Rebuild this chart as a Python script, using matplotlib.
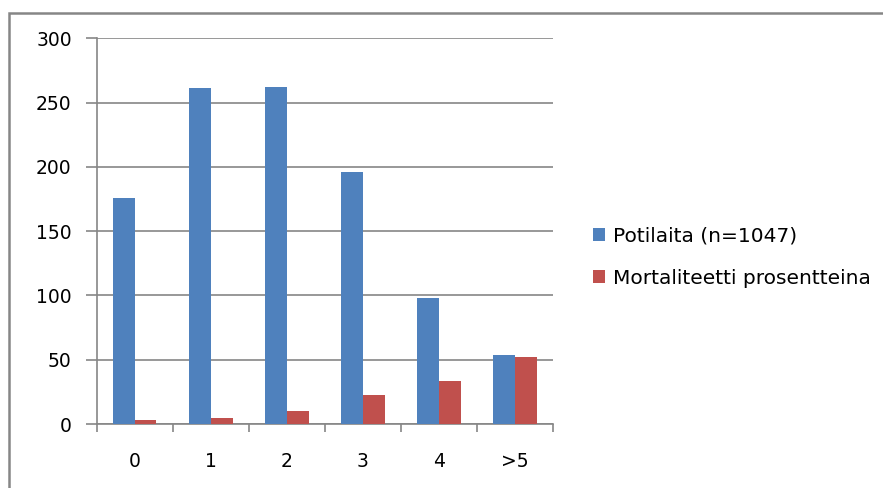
import numpy as np
import matplotlib
matplotlib.use("Agg")
from matplotlib import pyplot as plt
from matplotlib.patches import Rectangle

categories = ["0", "1", "2", "3", "4", ">5"]
potilaita = [176, 261, 262, 196, 98, 54]
mortaliteetti = [3.5, 4.4, 10.3, 22.8, 33.7, 52.0]
y_ticks = [0, 50, 100, 150, 200, 250, 300]

blue = "#4F81BD"
red = "#C0504D"
grid = "#868686"

fig = plt.figure(figsize=(8.83, 4.88), dpi=100)
ax = fig.add_axes([0.1095, 0.1311, 0.5168, 0.7904])

x = np.arange(len(categories))
w = 1 / 3.5
ax.bar(x - w / 2, potilaita, w, color=blue, label="Potilaita (n=1047)", zorder=3)
ax.bar(x + w / 2, mortaliteetti, w, color=red, label="Mortaliteetti prosentteina", zorder=3)

ax.set_xlim(-0.5, len(categories) - 0.5)
ax.set_ylim(0, 300)
ax.set_yticks(y_ticks)
ax.yaxis.grid(True, color=grid, linewidth=1.2, zorder=0)

# category labels in the middle, tick marks between the groups
ax.set_xticks(x)
ax.set_xticklabels(categories)
ax.set_xticks(np.arange(len(categories) + 1) - 0.5, minor=True)
ax.tick_params(axis="x", which="major", length=0, pad=20, labelsize=13.5)
ax.tick_params(axis="x", which="minor", length=6, color=grid, width=1.2)
ax.tick_params(axis="y", length=8, color=grid, width=1.2, pad=10, labelsize=13.5)

for side in ["top", "right"]:
    ax.spines[side].set_visible(False)
for side in ["left", "bottom"]:
    ax.spines[side].set_color(grid)
    ax.spines[side].set_linewidth(1.2)

fig.legend(loc="center left", bbox_to_anchor=(0.651, 0.473), frameon=False,
           fontsize=14.5, handlelength=0.6, handleheight=0.6, handletextpad=0.4,
           labelspacing=1.15)

# chart frame, running off the right and bottom edges
fig.patches.append(Rectangle((9 / 883, -0.05), 1.1, 0.973 + 0.05, transform=fig.transFigure,
                             fill=False, edgecolor=grid, linewidth=1.8, clip_on=False))

fig.savefig("out.png", dpi=100)
